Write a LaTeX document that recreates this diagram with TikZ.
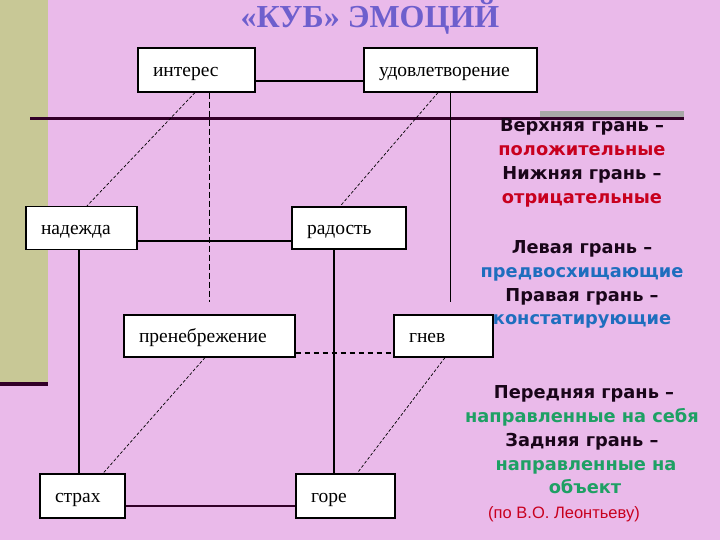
\documentclass[tikz,border=0pt]{standalone}
\usepackage{fontspec}
\setmainfont{Liberation Serif}
\newfontfamily\djsans{DejaVu Sans}
\newfontfamily\lsans{Liberation Sans}
\definecolor{pinkbg}{RGB}{234,186,234}
\definecolor{olivec}{RGB}{200,200,150}
\definecolor{darkbar}{RGB}{50,0,40}
\definecolor{titlec}{RGB}{110,95,205}
\definecolor{redc}{RGB}{200,0,30}
\definecolor{bluec}{RGB}{30,110,190}
\definecolor{greenc}{RGB}{30,160,100}
\definecolor{greyc}{RGB}{168,168,168}
\definecolor{textk}{RGB}{25,5,25}
\begin{document}
\begin{tikzpicture}[x=1pt,y=-1pt,
  box/.style 2 args={draw=black, fill=white, line width=1.2pt, text width=#1,
    minimum height=#2, inner xsep=15pt, inner ysep=0pt, align=left,
    text height=13pt, text depth=0pt,
    font=\fontsize{19.5}{19.5}\selectfont},
  solidc/.style={draw=black, line width=1.1pt},
  thickc/.style={draw=darkbar, line width=1.8pt},
  dashc/.style={draw=black, line width=1.8pt, dash pattern=on 5pt off 4pt},
  vdashc/.style={draw=black, line width=1pt, dash pattern=on 6pt off 3pt},
  diagc/.style={draw=black, line width=0.7pt, dash pattern=on 3pt off 2pt},
  rt/.style={anchor=base, inner sep=0pt, font=\djsans\bfseries\fontsize{17.8}{17.8}\selectfont}
]
\useasboundingbox (0,0) rectangle (720,540);
\fill[pinkbg] (0,0) rectangle (720,540);
\fill[olivec] (0,0) rectangle (48,382);
\fill[darkbar] (0,382) rectangle (48,386);

% title
\node[anchor=base, inner sep=0pt, text=titlec, font=\bfseries\fontsize{32}{32}\selectfont] (title) at (370,28) {«КУБ» ЭМОЦИЙ};

% main horizontal rule and grey bar
\draw[darkbar, line width=2.5pt] (30,118.5) -- (684,118.5);
\fill[greyc] (540,111) rectangle (684,117.3);

% boxes
\node[box={87pt}{44pt}] (int) at (196.5,70) {интерес};
\node[box={143pt}{44pt}] (udov) at (450.5,70) {удовлетворение};
\node[box={81pt}{43pt}] (nad) at (81.5,228) {надежда};
\node[box={84pt}{42pt}] (rad) at (349,228) {радость};
\node[box={141pt}{42pt}] (pren) at (209.5,336) {пренебрежение};
\node[box={69pt}{42pt}] (gnev) at (443.5,336) {гнев};
\node[box={55pt}{44pt}] (strah) at (82.5,496) {страх};
\node[box={69pt}{44pt}] (gore) at (345.5,496) {горе};

% horizontal edges
\draw[solidc] ([yshift=-11pt]int.east) -- ([yshift=-11pt]udov.west);
\draw[solidc] ([yshift=-13pt]nad.east) -- ([yshift=-13pt]rad.west);
\draw[dashc] ([yshift=-17pt]pren.east) -- ([yshift=-17pt]gnev.west);
\draw[thickc] ([yshift=-10pt]strah.east) -- ([yshift=-10pt]gore.west);

% vertical edges
\draw[solidc] ([xshift=-2.5pt]nad.south) -- ([xshift=-2.5pt]nad.south |- strah.north);
\draw[solidc] ([xshift=-15pt]rad.south) -- ([xshift=-15pt]rad.south |- gore.north);
\coordinate (uend) at ([yshift=12pt]gnev.north -| udov.south);
\draw[solidc] (udov.south) -- (uend);
\coordinate (iend) at ([yshift=12pt]pren.north);
\draw[vdashc] ([xshift=13pt]int.south) -- (iend);

% diagonal edges
\draw[diagc] ([xshift=-1.5pt]int.south) -- ([xshift=5.5pt]nad.north);
\draw[diagc] ([xshift=-12.5pt]udov.south) -- ([xshift=-9pt]rad.north);
\draw[diagc] ([xshift=-4.5pt]pren.south) -- ([xshift=20.5pt]strah.north);
\draw[diagc] ([xshift=1.5pt]gnev.south) -- ([xshift=11.5pt]gore.north);

% right-hand legend
\node[rt, text=textk] (t1) at (582,132) {Верхняя грань –};
\node[rt, text=redc] (t2) at (582,156) {положительные};
\node[rt, text=textk] (t3) at (582,180) {Нижняя грань –};
\node[rt, text=redc] (t4) at (582,204) {отрицательные};
\node[rt, text=textk] (t5) at (582,253) {Левая грань –};
\node[rt, text=bluec] (t6) at (582,277) {предвосхищающие};
\node[rt, text=textk] (t7) at (582,301) {Правая грань –};
\node[rt, text=bluec] (t8) at (582,324) {констатирующие};
\node[rt, text=textk] (t9) at (584,398) {Передняя грань –};
\node[rt, text=greenc] (t10) at (582,422) {направленные на себя};
\node[rt, text=textk] (t11) at (582,446) {Задняя грань –};
\node[rt, text=greenc] (t12) at (586,470) {направленные на};
\node[rt, text=greenc] (t13) at (585,493) {объект};
\node[anchor=base, inner sep=0pt, text=redc, font=\lsans\fontsize{16.5}{16.5}\selectfont] (t14) at (564,518) {(по В.О. Леонтьеву)};
\end{tikzpicture}
\end{document}
